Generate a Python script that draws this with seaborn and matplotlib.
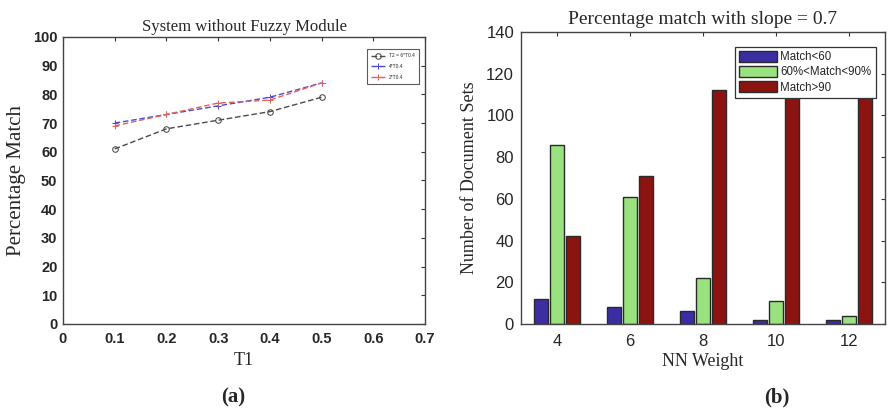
import matplotlib
matplotlib.use("Agg")
import matplotlib.pyplot as plt
import seaborn as sns
import pandas as pd
import numpy as np

# ---- data (a) ----
t1 = [0.1, 0.2, 0.3, 0.4, 0.5]
series_a_names = ["T2 = 6*T0.4", "4*T0.4", "2*T0.4"]
black_vals = [61, 68, 71, 74, 79]
blue_vals = [70, 73, 76, 79, 84]
red_vals = [69, 73, 77, 78, 84]
xticks_a = [0, 0.1, 0.2, 0.3, 0.4, 0.5, 0.6, 0.7]
xticklabels_a = ["0", "0.1", "0.2", "0.3", "0.4", "0.5", "0.6", "0.7"]
yticks_a = list(range(0, 101, 10))

# ---- data (b) ----
nn_weight = ["4", "6", "8", "10", "12"]
groups_b = ["Match<60", "60%<Match<90%", "Match>90"]
low_vals = [12, 8, 6, 2, 2]
mid_vals = [86, 61, 22, 11, 4]
high_vals = [42, 71, 112, 125, 125]
yticks_b = list(range(0, 141, 20))

sns.set_style("white")
plt.rcParams['font.family'] = ['Liberation Sans', 'DejaVu Sans']

fig = plt.figure(figsize=(8.91, 4.11), dpi=100)
ax1 = fig.add_axes([0.0707, 0.2117, 0.4063, 0.6983])
ax2 = fig.add_axes([0.5847, 0.2117, 0.4086, 0.7103])

# ---------- (a) line chart ----------
vals_a = [black_vals, blue_vals, red_vals]
colors_a = ["#4a4a4a", "#4a4ad8", "#e06060"]
markers_a = ["o", "+", "+"]
for name, vals, col, mk in zip(series_a_names, vals_a, colors_a, markers_a):
    sns.lineplot(x=t1, y=vals, ax=ax1, color=col, linestyle=(0, (4, 2)),
                 marker=mk, markersize=4, markerfacecolor="none",
                 markeredgecolor=col, linewidth=1.0, label=name)
ax1.set_xlim(0, 0.7)
ax1.set_ylim(0, 100)
ax1.set_xticks(xticks_a)
ax1.set_xticklabels(xticklabels_a)
ax1.set_yticks(yticks_a)
for lab in ax1.get_xticklabels() + ax1.get_yticklabels():
    lab.set_fontweight("bold")
    lab.set_fontsize(10.5)
ax1.tick_params(direction="in", length=3, top=True, right=True, color="#333333", pad=6)
ax1.tick_params(axis="y", pad=4)
ax1.set_xlabel("T1", family=['Liberation Serif'], fontsize=13, labelpad=4)
ax1.set_ylabel("Percentage Match", family=['Liberation Serif'], fontsize=15, labelpad=5)
ax1.set_title("System without Fuzzy Module", family=['Liberation Serif'], fontsize=12, pad=4)
for sp in ax1.spines.values():
    sp.set_color("#444444")
    sp.set_linewidth(1.0)
leg1 = ax1.legend(loc="upper right", fontsize=3.5, frameon=True, fancybox=False,
                  edgecolor="#333333", handlelength=3, borderpad=0.8,
                  labelspacing=1.2, bbox_to_anchor=(0.99, 0.965))
leg1.get_frame().set_linewidth(0.8)

# ---------- (b) grouped bar chart ----------
df_b = pd.DataFrame({
    "w": nn_weight * 3,
    "count": low_vals + mid_vals + high_vals,
    "grp": [groups_b[0]] * 5 + [groups_b[1]] * 5 + [groups_b[2]] * 5,
})
pal_b = {groups_b[0]: "#3b2ea3", groups_b[1]: "#99e27f", groups_b[2]: "#8b1410"}
sns.barplot(data=df_b, x="w", y="count", hue="grp", order=nn_weight, hue_order=groups_b,
            palette=pal_b, width=0.66, gap=0.12, edgecolor="#2a2a2a", linewidth=1.0,
            saturation=1, ax=ax2, errorbar=None)
ax2.set_xlim(-0.49, 4.49)
ax2.set_ylim(0, 140)
ax2.set_yticks(yticks_b)
ax2.tick_params(direction="in", length=3, top=True, right=True, labelsize=12, color="#333333", pad=7)
ax2.tick_params(axis="y", pad=5)
ax2.set_xlabel("NN Weight", family=['Liberation Serif'], fontsize=13, labelpad=3)
ax2.set_ylabel("Number of Document Sets", family=['Liberation Serif'], fontsize=13, labelpad=6)
ax2.set_title("Percentage match with slope = 0.7", family=['Liberation Serif'], fontsize=14, pad=6)
for sp in ax2.spines.values():
    sp.set_color("#444444")
    sp.set_linewidth(1.0)
leg2 = ax2.legend(loc="upper right", fontsize=8.3, frameon=True, fancybox=False,
                  edgecolor="#333333", framealpha=1, handlelength=3.3, handleheight=1.1,
                  borderpad=0.35, labelspacing=0.25, handletextpad=0.3,
                  bbox_to_anchor=(0.99, 0.97))
leg2.get_frame().set_linewidth(0.9)
leg2.set_zorder(10)

fig.text(0.262, 0.02, "(a)", family=['Liberation Serif'], fontsize=15, fontweight="bold", ha="center")
fig.text(0.872, 0.02, "(b)", family=['Liberation Serif'], fontsize=15, fontweight="bold", ha="center")

fig.savefig("out.png", dpi=100)
